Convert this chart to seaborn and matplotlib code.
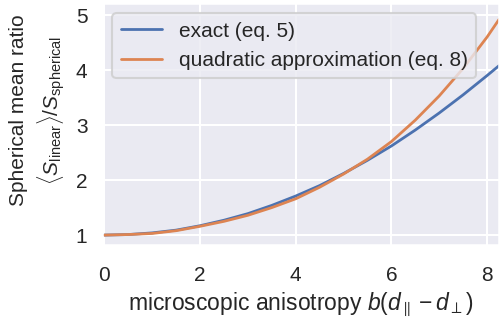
import numpy as np
import pandas as pd
import matplotlib
matplotlib.use("Agg")
import matplotlib.pyplot as plt
import seaborn as sns

# microscopic anisotropy b(d_par - d_perp)
anisotropy = [0.0, 0.5, 1.0, 1.5, 2.0, 2.5, 3.0, 3.5, 4.0, 4.5,
              5.0, 5.5, 6.0, 6.5, 7.0, 7.5, 8.0, 8.25]
# spherical mean ratio <S_linear>/S_spherical
ratio_exact = [1.00, 1.01, 1.04, 1.09, 1.17, 1.27, 1.39, 1.54, 1.71, 1.90,
               2.12, 2.36, 2.62, 2.91, 3.22, 3.55, 3.90, 4.08]
ratio_quadratic = [1.00, 1.01, 1.03, 1.08, 1.16, 1.25, 1.36, 1.50, 1.66, 1.87,
                   2.11, 2.38, 2.70, 3.09, 3.53, 4.03, 4.60, 4.92]
series_labels = ["exact (eq. 5)", "quadratic approximation (eq. 8)"]

sns.set_theme(style="darkgrid", context="talk")
plt.rcParams["font.family"] = ["Liberation Sans", "DejaVu Sans"]
plt.rcParams["mathtext.fontset"] = "custom"
plt.rcParams["mathtext.rm"] = "Liberation Sans"
plt.rcParams["mathtext.it"] = "Liberation Sans:italic"
plt.rcParams["mathtext.bf"] = "Liberation Sans:bold"

df = pd.DataFrame({
    "x": anisotropy * 2,
    "y": ratio_exact + ratio_quadratic,
    "series": [series_labels[0]] * len(anisotropy) + [series_labels[1]] * len(anisotropy),
})

fig = plt.figure(figsize=(4.99, 3.21), dpi=100)
ax = fig.add_axes([0.2044, 0.2368, 0.7956, 0.7539])

palette = sns.color_palette("deep")[:2]
sns.lineplot(data=df, x="x", y="y", hue="series", palette=palette,
             linewidth=2.0, ax=ax)

ax.set_xlim(-0.05, 8.25)
ax.set_ylim(0.82, 5.22)
ax.set_xticks([0, 2, 4, 6, 8])
ax.set_yticks([1, 2, 3, 4, 5])
ax.tick_params(axis="both", labelsize=15)
ax.tick_params(axis="x", pad=6)
ax.tick_params(axis="y", length=0, pad=10.5)

ax.set_xlabel(r"microscopic anisotropy $b(d_{\parallel} - d_{\perp})$", fontsize=16.5)
ax.set_ylabel("Spherical mean ratio\n"
              r"$\langle S_{\mathrm{linear}}\rangle / S_{\mathrm{spherical}}$",
              fontsize=15, linespacing=1.3)
ax.yaxis.set_label_coords(-0.088, 0.555)

leg = ax.legend(loc="upper left", fontsize=15, frameon=True)
leg.set_title(None)

fig.savefig("out.png", dpi=100)
